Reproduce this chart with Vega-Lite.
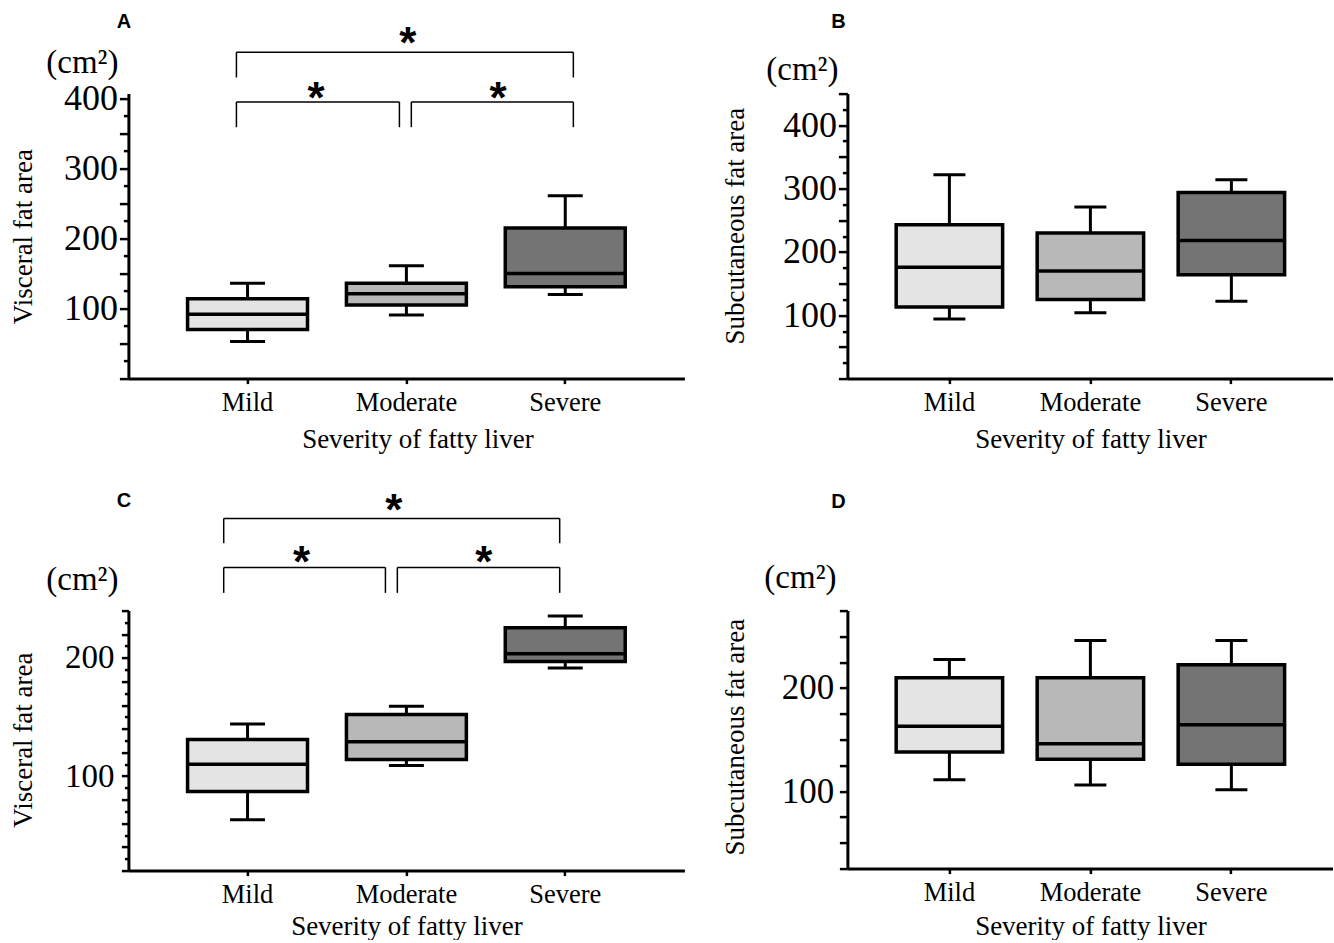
{
  "$schema": "https://vega.github.io/schema/vega-lite/v6.json",
  "padding": {"left": 9.4, "top": 11.6, "right": 0, "bottom": 0},
  "autosize": {"type": "pad"},
  "background": "white",
  "bounds": "flush",
  "columns": 2,
  "spacing": {"row": 232, "column": 163},
  "config": {
    "view": {"stroke": null},
    "axis": {"domainColor": "black", "domainWidth": 3, "tickColor": "black", "tickWidth": 2.5, "labelColor": "black", "titleColor": "black", "labelFont": "Liberation Serif", "titleFont": "Liberation Serif", "titleFontWeight": "normal", "grid": false, "labelOverlap": false, "labelFlush": false},
    "axisX": {"labelFontSize": 26.5, "titleFontSize": 27, "labelAngle": 0, "tickSize": 5, "labelPadding": 6},
    "axisY": {"titleFontSize": 27}
  },
  "datasets": {
    "boxes": [
      {"panel": "A", "group": "Mild", "lo": 53, "q1": 70, "med": 92, "q3": 114, "hi": 136},
      {"panel": "A", "group": "Moderate", "lo": 91, "q1": 105, "med": 121, "q3": 136, "hi": 161},
      {"panel": "A", "group": "Severe", "lo": 120, "q1": 131, "med": 150, "q3": 215, "hi": 261},
      {"panel": "B", "group": "Mild", "lo": 94, "q1": 113, "med": 176, "q3": 243, "hi": 322},
      {"panel": "B", "group": "Moderate", "lo": 104, "q1": 125, "med": 170, "q3": 230, "hi": 271},
      {"panel": "B", "group": "Severe", "lo": 122, "q1": 164, "med": 218, "q3": 294, "hi": 314},
      {"panel": "C", "group": "Mild", "lo": 63, "q1": 87, "med": 110, "q3": 131, "hi": 144},
      {"panel": "C", "group": "Moderate", "lo": 109, "q1": 114, "med": 129, "q3": 152, "hi": 159},
      {"panel": "C", "group": "Severe", "lo": 191.5, "q1": 197, "med": 203.5, "q3": 225.5, "hi": 235.5},
      {"panel": "D", "group": "Mild", "lo": 111, "q1": 138, "med": 163, "q3": 210, "hi": 227.5},
      {"panel": "D", "group": "Moderate", "lo": 106, "q1": 131, "med": 146, "q3": 210, "hi": 246},
      {"panel": "D", "group": "Severe", "lo": 101.5, "q1": 126, "med": 164.5, "q3": 222.5, "hi": 246}
    ],
    "brackets": [
      {"panel": "A", "xa": 0.68, "xb": 2.801, "top": 466, "bot": 430},
      {"panel": "A", "xa": 0.68, "xb": 1.706, "top": 395, "bot": 359},
      {"panel": "A", "xa": 1.781, "xb": 2.801, "top": 395, "bot": 359},
      {"panel": "C", "xa": 0.6, "xb": 2.715, "top": 318, "bot": 297},
      {"panel": "C", "xa": 0.6, "xb": 1.618, "top": 276.5, "bot": 255},
      {"panel": "C", "xa": 1.693, "xb": 2.715, "top": 276.5, "bot": 255}
    ],
    "stars": [
      {"panel": "A", "x": 1.759, "y": 493, "label": "*"},
      {"panel": "A", "x": 1.181, "y": 415.5, "label": "*"},
      {"panel": "A", "x": 2.327, "y": 415.5, "label": "*"},
      {"panel": "C", "x": 1.671, "y": 333.5, "label": "*"},
      {"panel": "C", "x": 1.09, "y": 290, "label": "*"},
      {"panel": "C", "x": 2.238, "y": 290, "label": "*"}
    ],
    "notes": [
      {"panel": "A", "kind": "letter", "x": -0.028, "y": 509, "label": "A"},
      {"panel": "A", "kind": "unit", "x": -0.29, "y": 451, "label": "(cm²)"},
      {"panel": "B", "kind": "letter", "x": -0.064, "y": 562.5, "label": "B"},
      {"panel": "B", "kind": "unit", "x": -0.319, "y": 488, "label": "(cm²)"},
      {"panel": "C", "kind": "letter", "x": -0.028, "y": 333, "label": "C"},
      {"panel": "C", "kind": "unit", "x": -0.29, "y": 266, "label": "(cm²)"},
      {"panel": "D", "kind": "letter", "x": -0.064, "y": 380, "label": "D"},
      {"panel": "D", "kind": "unit", "x": -0.333, "y": 307, "label": "(cm²)"}
    ]
  },
  "concat": [
    {
      "width": 556, "height": 285,
      "layer": [
        {"data": {"name": "boxes"}, "transform": [{"filter": "datum.panel === 'A'"}],
         "mark": {"type": "rule", "color": "black", "strokeWidth": 3},
         "encoding": {
           "x": {"field": "group", "type": "nominal", "scale": {"type": "band", "domain": ["Mild", "Moderate", "Severe"], "paddingInner": 0, "paddingOuter": 0.25}, "axis": {"title": "Severity of fatty liver", "titleX": 289, "titleY": 69, "titleBaseline": "alphabetic"}},
           "y": {"field": "lo", "type": "quantitative", "scale": {"domain": [0, 407], "nice": false, "zero": false}, "axis": {"orient": "left", "values": [0, 50, 100, 150, 200, 250, 300, 350, 400], "tickSize": 9, "labelPadding": 2, "labelFontSize": 36, "labelExpr": "datum.value > 0 && datum.value % 100 === 0 ? datum.label : ''", "title": "Visceral fat area", "titleAngle": 270, "titleBaseline": "alphabetic", "titleX": -97, "titleY": 142.5}},
           "y2": {"field": "hi"}
         }},
        {"data": {"name": "boxes"}, "transform": [{"filter": "datum.panel === 'A'"}],
         "mark": {"type": "bar", "stroke": "black", "strokeWidth": 3.5, "width": {"band": 0.755}},
         "encoding": {
           "x": {"field": "group", "type": "nominal", "scale": {"type": "band", "domain": ["Mild", "Moderate", "Severe"], "paddingInner": 0, "paddingOuter": 0.25}, "axis": null},
           "y": {"field": "q1", "type": "quantitative", "scale": {"domain": [0, 407], "nice": false, "zero": false}, "axis": {"orient": "left", "values": [25, 75, 125, 175, 225, 275, 325, 375], "tickSize": 5, "labels": false, "domain": false, "title": null}},
           "y2": {"field": "q3"},
           "fill": {"field": "group", "type": "nominal", "scale": {"domain": ["Mild", "Moderate", "Severe"], "range": ["#e4e4e4", "#b8b8b8", "#747474"]}, "legend": null}
         }},
        {"data": {"name": "boxes"}, "transform": [{"filter": "datum.panel === 'A'"}],
         "mark": {"type": "tick", "color": "black", "size": 120, "thickness": 3.5, "opacity": 1},
         "encoding": {
           "x": {"field": "group", "type": "nominal", "scale": {"type": "band", "domain": ["Mild", "Moderate", "Severe"], "paddingInner": 0, "paddingOuter": 0.25}, "axis": null},
           "y": {"field": "med", "type": "quantitative", "scale": {"domain": [0, 407], "nice": false, "zero": false}, "axis": null}
         }},
        {"data": {"name": "boxes"}, "transform": [{"filter": "datum.panel === 'A'"}],
         "mark": {"type": "tick", "color": "black", "size": 35, "thickness": 3, "opacity": 1},
         "encoding": {
           "x": {"field": "group", "type": "nominal", "scale": {"type": "band", "domain": ["Mild", "Moderate", "Severe"], "paddingInner": 0, "paddingOuter": 0.25}, "axis": null},
           "y": {"field": "lo", "type": "quantitative", "scale": {"domain": [0, 407], "nice": false, "zero": false}, "axis": null}
         }},
        {"data": {"name": "boxes"}, "transform": [{"filter": "datum.panel === 'A'"}],
         "mark": {"type": "tick", "color": "black", "size": 35, "thickness": 3, "opacity": 1},
         "encoding": {
           "x": {"field": "group", "type": "nominal", "scale": {"type": "band", "domain": ["Mild", "Moderate", "Severe"], "paddingInner": 0, "paddingOuter": 0.25}, "axis": null},
           "y": {"field": "hi", "type": "quantitative", "scale": {"domain": [0, 407], "nice": false, "zero": false}, "axis": null}
         }},
        {"data": {"name": "brackets"}, "transform": [{"filter": "datum.panel === 'A'"}],
         "mark": {"type": "rule", "color": "black", "strokeWidth": 1.5},
         "encoding": {
           "x": {"field": "xa", "type": "quantitative", "scale": {"domain": [0, 3.5], "nice": false, "zero": false}, "axis": null},
           "x2": {"field": "xb"},
           "y": {"field": "top", "type": "quantitative", "scale": {"domain": [0, 407], "nice": false, "zero": false}, "axis": null}
         }},
        {"data": {"name": "brackets"}, "transform": [{"filter": "datum.panel === 'A'"}],
         "mark": {"type": "rule", "color": "black", "strokeWidth": 1.5},
         "encoding": {
           "x": {"field": "xa", "type": "quantitative", "scale": {"domain": [0, 3.5], "nice": false, "zero": false}, "axis": null},
           "y": {"field": "top", "type": "quantitative", "scale": {"domain": [0, 407], "nice": false, "zero": false}, "axis": null},
           "y2": {"field": "bot"}
         }},
        {"data": {"name": "brackets"}, "transform": [{"filter": "datum.panel === 'A'"}],
         "mark": {"type": "rule", "color": "black", "strokeWidth": 1.5},
         "encoding": {
           "x": {"field": "xb", "type": "quantitative", "scale": {"domain": [0, 3.5], "nice": false, "zero": false}, "axis": null},
           "y": {"field": "top", "type": "quantitative", "scale": {"domain": [0, 407], "nice": false, "zero": false}, "axis": null},
           "y2": {"field": "bot"}
         }},
        {"data": {"name": "stars"}, "transform": [{"filter": "datum.panel === 'A'"}],
         "mark": {"type": "text", "font": "Liberation Sans", "fontWeight": "bold", "fontSize": 44, "align": "center", "baseline": "middle", "dy": 12, "color": "black"},
         "encoding": {
           "x": {"field": "x", "type": "quantitative", "scale": {"domain": [0, 3.5], "nice": false, "zero": false}, "axis": null},
           "y": {"field": "y", "type": "quantitative", "scale": {"domain": [0, 407], "nice": false, "zero": false}, "axis": null},
           "text": {"field": "label"}
         }},
        {"data": {"name": "notes"}, "transform": [{"filter": "datum.panel === 'A' && datum.kind === 'letter'"}],
         "mark": {"type": "text", "font": "Liberation Sans", "fontWeight": "bold", "fontSize": 20, "align": "center", "baseline": "middle", "color": "black"},
         "encoding": {
           "x": {"field": "x", "type": "quantitative", "scale": {"domain": [0, 3.5], "nice": false, "zero": false}, "axis": null},
           "y": {"field": "y", "type": "quantitative", "scale": {"domain": [0, 407], "nice": false, "zero": false}, "axis": null},
           "text": {"field": "label"}
         }},
        {"data": {"name": "notes"}, "transform": [{"filter": "datum.panel === 'A' && datum.kind === 'unit'"}],
         "mark": {"type": "text", "font": "Liberation Serif", "fontSize": 33, "align": "center", "baseline": "middle", "color": "black"},
         "encoding": {
           "x": {"field": "x", "type": "quantitative", "scale": {"domain": [0, 3.5], "nice": false, "zero": false}, "axis": null},
           "y": {"field": "y", "type": "quantitative", "scale": {"domain": [0, 407], "nice": false, "zero": false}, "axis": null},
           "text": {"field": "label"}
         }}
      ],
      "resolve": {"scale": {"x": "independent"}, "axis": {"x": "independent", "y": "independent"}}
    },
    {
      "width": 486, "height": 285,
      "layer": [
        {"data": {"name": "boxes"}, "transform": [{"filter": "datum.panel === 'B'"}],
         "mark": {"type": "rule", "color": "black", "strokeWidth": 3},
         "encoding": {
           "x": {"field": "group", "type": "nominal", "scale": {"type": "band", "domain": ["Mild", "Moderate", "Severe"], "paddingInner": 0, "paddingOuter": 0.2235}, "axis": {"title": "Severity of fatty liver", "titleX": 243, "titleY": 69, "titleBaseline": "alphabetic"}},
           "y": {"field": "lo", "type": "quantitative", "scale": {"domain": [0, 450], "nice": false, "zero": false}, "axis": {"orient": "left", "values": [0, 50, 100, 150, 200, 250, 300, 350, 400, 450], "tickSize": 9, "labelPadding": 2, "labelFontSize": 36, "labelExpr": "datum.value > 0 && datum.value % 100 === 0 ? datum.label : ''", "title": "Subcutaneous fat area", "titleAngle": 270, "titleBaseline": "alphabetic", "titleX": -104, "titleY": 132}},
           "y2": {"field": "hi"}
         }},
        {"data": {"name": "boxes"}, "transform": [{"filter": "datum.panel === 'B'"}],
         "mark": {"type": "bar", "stroke": "black", "strokeWidth": 3.5, "width": {"band": 0.755}},
         "encoding": {
           "x": {"field": "group", "type": "nominal", "scale": {"type": "band", "domain": ["Mild", "Moderate", "Severe"], "paddingInner": 0, "paddingOuter": 0.2235}, "axis": null},
           "y": {"field": "q1", "type": "quantitative", "scale": {"domain": [0, 450], "nice": false, "zero": false}, "axis": {"orient": "left", "values": [25, 75, 125, 175, 225, 275, 325, 375, 425], "tickSize": 5, "labels": false, "domain": false, "title": null}},
           "y2": {"field": "q3"},
           "fill": {"field": "group", "type": "nominal", "scale": {"domain": ["Mild", "Moderate", "Severe"], "range": ["#e4e4e4", "#b8b8b8", "#747474"]}, "legend": null}
         }},
        {"data": {"name": "boxes"}, "transform": [{"filter": "datum.panel === 'B'"}],
         "mark": {"type": "tick", "color": "black", "size": 106.5, "thickness": 3.5, "opacity": 1},
         "encoding": {
           "x": {"field": "group", "type": "nominal", "scale": {"type": "band", "domain": ["Mild", "Moderate", "Severe"], "paddingInner": 0, "paddingOuter": 0.2235}, "axis": null},
           "y": {"field": "med", "type": "quantitative", "scale": {"domain": [0, 450], "nice": false, "zero": false}, "axis": null}
         }},
        {"data": {"name": "boxes"}, "transform": [{"filter": "datum.panel === 'B'"}],
         "mark": {"type": "tick", "color": "black", "size": 32, "thickness": 3, "opacity": 1},
         "encoding": {
           "x": {"field": "group", "type": "nominal", "scale": {"type": "band", "domain": ["Mild", "Moderate", "Severe"], "paddingInner": 0, "paddingOuter": 0.2235}, "axis": null},
           "y": {"field": "lo", "type": "quantitative", "scale": {"domain": [0, 450], "nice": false, "zero": false}, "axis": null}
         }},
        {"data": {"name": "boxes"}, "transform": [{"filter": "datum.panel === 'B'"}],
         "mark": {"type": "tick", "color": "black", "size": 32, "thickness": 3, "opacity": 1},
         "encoding": {
           "x": {"field": "group", "type": "nominal", "scale": {"type": "band", "domain": ["Mild", "Moderate", "Severe"], "paddingInner": 0, "paddingOuter": 0.2235}, "axis": null},
           "y": {"field": "hi", "type": "quantitative", "scale": {"domain": [0, 450], "nice": false, "zero": false}, "axis": null}
         }},
        {"data": {"name": "notes"}, "transform": [{"filter": "datum.panel === 'B' && datum.kind === 'letter'"}],
         "mark": {"type": "text", "font": "Liberation Sans", "fontWeight": "bold", "fontSize": 20, "align": "center", "baseline": "middle", "color": "black"},
         "encoding": {
           "x": {"field": "x", "type": "quantitative", "scale": {"domain": [0, 3.447], "nice": false, "zero": false}, "axis": null},
           "y": {"field": "y", "type": "quantitative", "scale": {"domain": [0, 450], "nice": false, "zero": false}, "axis": null},
           "text": {"field": "label"}
         }},
        {"data": {"name": "notes"}, "transform": [{"filter": "datum.panel === 'B' && datum.kind === 'unit'"}],
         "mark": {"type": "text", "font": "Liberation Serif", "fontSize": 33, "align": "center", "baseline": "middle", "color": "black"},
         "encoding": {
           "x": {"field": "x", "type": "quantitative", "scale": {"domain": [0, 3.447], "nice": false, "zero": false}, "axis": null},
           "y": {"field": "y", "type": "quantitative", "scale": {"domain": [0, 450], "nice": false, "zero": false}, "axis": null},
           "text": {"field": "label"}
         }}
      ],
      "resolve": {"scale": {"x": "independent"}, "axis": {"x": "independent", "y": "independent"}}
    },
    {
      "width": 556, "height": 260,
      "layer": [
        {"data": {"name": "boxes"}, "transform": [{"filter": "datum.panel === 'C'"}],
         "mark": {"type": "rule", "color": "black", "strokeWidth": 3},
         "encoding": {
           "x": {"field": "group", "type": "nominal", "scale": {"type": "band", "domain": ["Mild", "Moderate", "Severe"], "paddingInner": 0, "paddingOuter": 0.25}, "axis": {"title": "Severity of fatty liver", "titleX": 278, "titleY": 64, "titleBaseline": "alphabetic"}},
           "y": {"field": "lo", "type": "quantitative", "scale": {"domain": [20, 240], "nice": false, "zero": false}, "axis": {"orient": "left", "values": [20, 40, 60, 80, 100, 120, 140, 160, 180, 200, 220, 240], "tickSize": 7, "labelPadding": 7.5, "labelFontSize": 33, "labelExpr": "datum.value === 100 || datum.value === 200 ? datum.label : ''", "title": "Visceral fat area", "titleAngle": 270, "titleBaseline": "alphabetic", "titleX": -96.5, "titleY": 129}},
           "y2": {"field": "hi"}
         }},
        {"data": {"name": "boxes"}, "transform": [{"filter": "datum.panel === 'C'"}],
         "mark": {"type": "bar", "stroke": "black", "strokeWidth": 3.5, "width": {"band": 0.755}},
         "encoding": {
           "x": {"field": "group", "type": "nominal", "scale": {"type": "band", "domain": ["Mild", "Moderate", "Severe"], "paddingInner": 0, "paddingOuter": 0.25}, "axis": null},
           "y": {"field": "q1", "type": "quantitative", "scale": {"domain": [20, 240], "nice": false, "zero": false}, "axis": {"orient": "left", "values": [30, 50, 70, 90, 110, 130, 150, 170, 190, 210, 230], "tickSize": 4, "labels": false, "domain": false, "title": null}},
           "y2": {"field": "q3"},
           "fill": {"field": "group", "type": "nominal", "scale": {"domain": ["Mild", "Moderate", "Severe"], "range": ["#e4e4e4", "#b8b8b8", "#747474"]}, "legend": null}
         }},
        {"data": {"name": "boxes"}, "transform": [{"filter": "datum.panel === 'C'"}],
         "mark": {"type": "tick", "color": "black", "size": 120, "thickness": 3.5, "opacity": 1},
         "encoding": {
           "x": {"field": "group", "type": "nominal", "scale": {"type": "band", "domain": ["Mild", "Moderate", "Severe"], "paddingInner": 0, "paddingOuter": 0.25}, "axis": null},
           "y": {"field": "med", "type": "quantitative", "scale": {"domain": [20, 240], "nice": false, "zero": false}, "axis": null}
         }},
        {"data": {"name": "boxes"}, "transform": [{"filter": "datum.panel === 'C'"}],
         "mark": {"type": "tick", "color": "black", "size": 35, "thickness": 3, "opacity": 1},
         "encoding": {
           "x": {"field": "group", "type": "nominal", "scale": {"type": "band", "domain": ["Mild", "Moderate", "Severe"], "paddingInner": 0, "paddingOuter": 0.25}, "axis": null},
           "y": {"field": "lo", "type": "quantitative", "scale": {"domain": [20, 240], "nice": false, "zero": false}, "axis": null}
         }},
        {"data": {"name": "boxes"}, "transform": [{"filter": "datum.panel === 'C'"}],
         "mark": {"type": "tick", "color": "black", "size": 35, "thickness": 3, "opacity": 1},
         "encoding": {
           "x": {"field": "group", "type": "nominal", "scale": {"type": "band", "domain": ["Mild", "Moderate", "Severe"], "paddingInner": 0, "paddingOuter": 0.25}, "axis": null},
           "y": {"field": "hi", "type": "quantitative", "scale": {"domain": [20, 240], "nice": false, "zero": false}, "axis": null}
         }},
        {"data": {"name": "brackets"}, "transform": [{"filter": "datum.panel === 'C'"}],
         "mark": {"type": "rule", "color": "black", "strokeWidth": 1.5},
         "encoding": {
           "x": {"field": "xa", "type": "quantitative", "scale": {"domain": [0, 3.5], "nice": false, "zero": false}, "axis": null},
           "x2": {"field": "xb"},
           "y": {"field": "top", "type": "quantitative", "scale": {"domain": [20, 240], "nice": false, "zero": false}, "axis": null}
         }},
        {"data": {"name": "brackets"}, "transform": [{"filter": "datum.panel === 'C'"}],
         "mark": {"type": "rule", "color": "black", "strokeWidth": 1.5},
         "encoding": {
           "x": {"field": "xa", "type": "quantitative", "scale": {"domain": [0, 3.5], "nice": false, "zero": false}, "axis": null},
           "y": {"field": "top", "type": "quantitative", "scale": {"domain": [20, 240], "nice": false, "zero": false}, "axis": null},
           "y2": {"field": "bot"}
         }},
        {"data": {"name": "brackets"}, "transform": [{"filter": "datum.panel === 'C'"}],
         "mark": {"type": "rule", "color": "black", "strokeWidth": 1.5},
         "encoding": {
           "x": {"field": "xb", "type": "quantitative", "scale": {"domain": [0, 3.5], "nice": false, "zero": false}, "axis": null},
           "y": {"field": "top", "type": "quantitative", "scale": {"domain": [20, 240], "nice": false, "zero": false}, "axis": null},
           "y2": {"field": "bot"}
         }},
        {"data": {"name": "stars"}, "transform": [{"filter": "datum.panel === 'C'"}],
         "mark": {"type": "text", "font": "Liberation Sans", "fontWeight": "bold", "fontSize": 44, "align": "center", "baseline": "middle", "dy": 12, "color": "black"},
         "encoding": {
           "x": {"field": "x", "type": "quantitative", "scale": {"domain": [0, 3.5], "nice": false, "zero": false}, "axis": null},
           "y": {"field": "y", "type": "quantitative", "scale": {"domain": [20, 240], "nice": false, "zero": false}, "axis": null},
           "text": {"field": "label"}
         }},
        {"data": {"name": "notes"}, "transform": [{"filter": "datum.panel === 'C' && datum.kind === 'letter'"}],
         "mark": {"type": "text", "font": "Liberation Sans", "fontWeight": "bold", "fontSize": 20, "align": "center", "baseline": "middle", "color": "black"},
         "encoding": {
           "x": {"field": "x", "type": "quantitative", "scale": {"domain": [0, 3.5], "nice": false, "zero": false}, "axis": null},
           "y": {"field": "y", "type": "quantitative", "scale": {"domain": [20, 240], "nice": false, "zero": false}, "axis": null},
           "text": {"field": "label"}
         }},
        {"data": {"name": "notes"}, "transform": [{"filter": "datum.panel === 'C' && datum.kind === 'unit'"}],
         "mark": {"type": "text", "font": "Liberation Serif", "fontSize": 33, "align": "center", "baseline": "middle", "color": "black"},
         "encoding": {
           "x": {"field": "x", "type": "quantitative", "scale": {"domain": [0, 3.5], "nice": false, "zero": false}, "axis": null},
           "y": {"field": "y", "type": "quantitative", "scale": {"domain": [20, 240], "nice": false, "zero": false}, "axis": null},
           "text": {"field": "label"}
         }}
      ],
      "resolve": {"scale": {"x": "independent"}, "axis": {"x": "independent", "y": "independent"}}
    },
    {
      "width": 486, "height": 258,
      "layer": [
        {"data": {"name": "boxes"}, "transform": [{"filter": "datum.panel === 'D'"}],
         "mark": {"type": "rule", "color": "black", "strokeWidth": 3},
         "encoding": {
           "x": {"field": "group", "type": "nominal", "scale": {"type": "band", "domain": ["Mild", "Moderate", "Severe"], "paddingInner": 0, "paddingOuter": 0.2235}, "axis": {"title": "Severity of fatty liver", "titleX": 243, "titleY": 66, "titleBaseline": "alphabetic"}},
           "y": {"field": "lo", "type": "quantitative", "scale": {"domain": [25, 275], "nice": false, "zero": false}, "axis": {"orient": "left", "values": [25, 50, 75, 100, 125, 150, 175, 200, 225, 250, 275], "tickSize": 8, "labelPadding": 5.7, "labelFontSize": 35, "labelExpr": "datum.value === 100 || datum.value === 200 ? datum.label : ''", "title": "Subcutaneous fat area", "titleAngle": 270, "titleBaseline": "alphabetic", "titleX": -104, "titleY": 126}},
           "y2": {"field": "hi"}
         }},
        {"data": {"name": "boxes"}, "transform": [{"filter": "datum.panel === 'D'"}],
         "mark": {"type": "bar", "stroke": "black", "strokeWidth": 3.5, "width": {"band": 0.755}},
         "encoding": {
           "x": {"field": "group", "type": "nominal", "scale": {"type": "band", "domain": ["Mild", "Moderate", "Severe"], "paddingInner": 0, "paddingOuter": 0.2235}, "axis": null},
           "y": {"field": "q1", "type": "quantitative", "scale": {"domain": [25, 275], "nice": false, "zero": false}, "axis": null},
           "y2": {"field": "q3"},
           "fill": {"field": "group", "type": "nominal", "scale": {"domain": ["Mild", "Moderate", "Severe"], "range": ["#e4e4e4", "#b8b8b8", "#747474"]}, "legend": null}
         }},
        {"data": {"name": "boxes"}, "transform": [{"filter": "datum.panel === 'D'"}],
         "mark": {"type": "tick", "color": "black", "size": 106.5, "thickness": 3.5, "opacity": 1},
         "encoding": {
           "x": {"field": "group", "type": "nominal", "scale": {"type": "band", "domain": ["Mild", "Moderate", "Severe"], "paddingInner": 0, "paddingOuter": 0.2235}, "axis": null},
           "y": {"field": "med", "type": "quantitative", "scale": {"domain": [25, 275], "nice": false, "zero": false}, "axis": null}
         }},
        {"data": {"name": "boxes"}, "transform": [{"filter": "datum.panel === 'D'"}],
         "mark": {"type": "tick", "color": "black", "size": 32, "thickness": 3, "opacity": 1},
         "encoding": {
           "x": {"field": "group", "type": "nominal", "scale": {"type": "band", "domain": ["Mild", "Moderate", "Severe"], "paddingInner": 0, "paddingOuter": 0.2235}, "axis": null},
           "y": {"field": "lo", "type": "quantitative", "scale": {"domain": [25, 275], "nice": false, "zero": false}, "axis": null}
         }},
        {"data": {"name": "boxes"}, "transform": [{"filter": "datum.panel === 'D'"}],
         "mark": {"type": "tick", "color": "black", "size": 32, "thickness": 3, "opacity": 1},
         "encoding": {
           "x": {"field": "group", "type": "nominal", "scale": {"type": "band", "domain": ["Mild", "Moderate", "Severe"], "paddingInner": 0, "paddingOuter": 0.2235}, "axis": null},
           "y": {"field": "hi", "type": "quantitative", "scale": {"domain": [25, 275], "nice": false, "zero": false}, "axis": null}
         }},
        {"data": {"name": "notes"}, "transform": [{"filter": "datum.panel === 'D' && datum.kind === 'letter'"}],
         "mark": {"type": "text", "font": "Liberation Sans", "fontWeight": "bold", "fontSize": 20, "align": "center", "baseline": "middle", "color": "black"},
         "encoding": {
           "x": {"field": "x", "type": "quantitative", "scale": {"domain": [0, 3.447], "nice": false, "zero": false}, "axis": null},
           "y": {"field": "y", "type": "quantitative", "scale": {"domain": [25, 275], "nice": false, "zero": false}, "axis": null},
           "text": {"field": "label"}
         }},
        {"data": {"name": "notes"}, "transform": [{"filter": "datum.panel === 'D' && datum.kind === 'unit'"}],
         "mark": {"type": "text", "font": "Liberation Serif", "fontSize": 33, "align": "center", "baseline": "middle", "color": "black"},
         "encoding": {
           "x": {"field": "x", "type": "quantitative", "scale": {"domain": [0, 3.447], "nice": false, "zero": false}, "axis": null},
           "y": {"field": "y", "type": "quantitative", "scale": {"domain": [25, 275], "nice": false, "zero": false}, "axis": null},
           "text": {"field": "label"}
         }}
      ],
      "resolve": {"scale": {"x": "independent"}, "axis": {"x": "independent", "y": "independent"}}
    }
  ]
}
